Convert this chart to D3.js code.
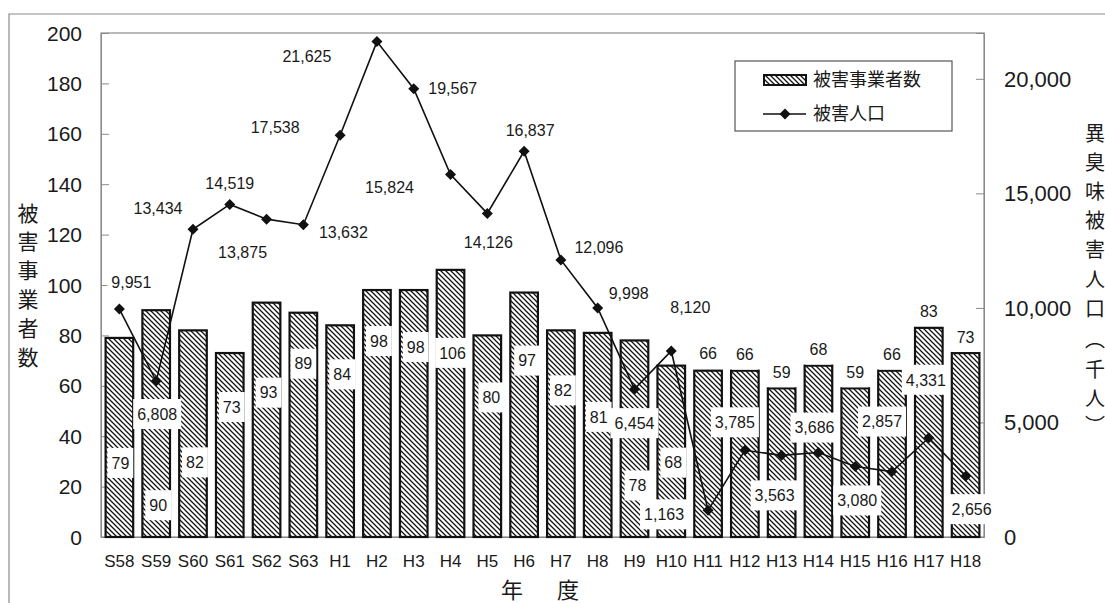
<!DOCTYPE html>
<html>
<head>
<meta charset="utf-8">
<script src="https://cdn.jsdelivr.net/npm/d3@7"></script>
<style>
  html, body { margin: 0; padding: 0; background: #fff; }
  svg { display: block; }
  text { font-family: "Liberation Sans", Arial, sans-serif; fill: #1a1a1a; }
  .jp { font-family: "Noto Sans CJK JP", sans-serif; }
</style>
</head>
<body>
<svg id="chart" width="1105" height="603"></svg>
<script>
// Fiscal years (Showa 58 – Heisei 18)
const categories = ["S58","S59","S60","S61","S62","S63","H1","H2","H3","H4","H5","H6",
                    "H7","H8","H9","H10","H11","H12","H13","H14","H15","H16","H17","H18"];
// 被害事業者数 (left axis)
const affectedOperators = [79,90,82,73,93,89,84,98,98,106,80,97,82,81,78,68,66,66,59,68,59,66,83,73];
// 被害人口, thousand people (right axis)
const affectedPopulation = [9951,6808,13434,14519,13875,13632,17538,21625,19567,15824,14126,16837,
                            12096,9998,6454,8120,1163,3785,3563,3686,3080,2857,4331,2656];
const leftTicks = [0,20,40,60,80,100,120,140,160,180,200];
const rightTicks = [0,5000,10000,15000,20000];
const leftTitle = ["被","害","事","業","者","数"];
const rightTitle = ["異","臭","味","被","害","人","口","︵","千","人","︶"];
const xTitle = ["年","度"];
const legendLabels = ["被害事業者数","被害人口"];

// Label placement (pixels): bar labels sit at an offset below the bar top,
// population labels at an offset from their marker.
const barLabelDx = [1,2,2,2,2,0,2,2,2,2,4,3,2,1,3,2,0,0,0,0,0,0,0,0];
const barLabelDy = [125,195,132,54,90,51,49,51,57,83,62,68,60,84,145,97,-17,-16,-16,-16,-16,-16,-17,-16];
const popLabelOffset = [[12,-27],[1,33],[-35,-21],[0,-21],[-24,33],[40,8],[-65,-8],[-70,15],
                        [39,0],[-61,13],[1,29],[6,-21],[38,-13],[31,-15],[0,34],[19,-44],
                        [-44,4],[-10,-28],[-7,40],[-4,-25],[2,34],[-10,-50],[-3,-58],[6,33]];
const rightTitleY = [134,163,192,221,250,280,309,340,370,399,426];

const svg = d3.select("#chart");
const fmt = d3.format(",");
const plot = { left: 101, right: 984, top: 33, bottom: 537 };
const frameGray = "#8a8a8a";

// diagonal hatch for bars
const defs = svg.append("defs");
const hs = 5;
const pat = defs.append("pattern")
  .attr("id", "hatch").attr("patternUnits", "userSpaceOnUse")
  .attr("width", hs).attr("height", hs);
pat.append("rect").attr("width", hs).attr("height", hs).attr("fill", "#fff");
pat.append("path")
  .attr("d", `M-1,-1 L${hs + 1},${hs + 1} M-1,${hs - 1} L1,${hs + 1} M${hs - 1},-1 L${hs + 1},1`)
  .attr("stroke", "#111").attr("stroke-width", 1.25);

// outer frame
svg.append("path").attr("d", "M9,603 L9,14 L1105,14")
  .attr("fill", "none").attr("stroke", frameGray).attr("stroke-width", 1.2);

const x = d3.scaleBand().domain(categories).range([plot.left, plot.right])
  .paddingInner(0.25).paddingOuter(0.125);
const yL = d3.scaleLinear().domain([0, 200]).range([plot.bottom, plot.top]);
const yR = d3.scaleLinear().domain([0, 22000]).range([plot.bottom, plot.top]);
const cx = c => x(c) + x.bandwidth() / 2;

// plot frame
svg.append("rect").attr("x", plot.left).attr("y", plot.top)
  .attr("width", plot.right - plot.left).attr("height", plot.bottom - plot.top)
  .attr("fill", "none").attr("stroke", frameGray).attr("stroke-width", 1.2);

// left axis
const gL = svg.append("g").attr("transform", `translate(${plot.left},0)`)
  .call(d3.axisRight(yL).tickValues(leftTicks).tickSize(8).tickFormat(""));
gL.select(".domain").attr("stroke", frameGray);
gL.selectAll(".tick line").attr("stroke", frameGray);
svg.append("g").selectAll("text").data(leftTicks).join("text")
  .attr("x", 82).attr("y", d => yL(d)).attr("dy", "0.36em")
  .attr("text-anchor", "end").attr("font-size", 21).text(d => d);

// right axis
const gR = svg.append("g").attr("transform", `translate(${plot.right},0)`)
  .call(d3.axisLeft(yR).tickValues(rightTicks).tickSize(8).tickFormat(""));
gR.select(".domain").attr("stroke", frameGray);
gR.selectAll(".tick line").attr("stroke", frameGray);
svg.append("g").selectAll("text").data(rightTicks).join("text")
  .attr("x", 1004).attr("y", d => yR(d)).attr("dy", "0.36em")
  .attr("font-size", 22).text(d => fmt(d));

// x axis
const gX = svg.append("g").attr("transform", `translate(0,${plot.bottom})`)
  .call(d3.axisBottom(x).tickSize(0).tickPadding(18));
gX.select(".domain").attr("stroke", frameGray);
gX.selectAll(".tick text").attr("font-size", 17).attr("fill", "#1a1a1a")
  .attr("font-family", "Liberation Sans, Arial, sans-serif");

// bars
svg.append("g").selectAll("rect").data(categories).join("rect")
  .attr("x", d => x(d)).attr("width", x.bandwidth())
  .attr("y", (d, i) => yL(affectedOperators[i]))
  .attr("height", (d, i) => yL(0) - yL(affectedOperators[i]))
  .attr("fill", "url(#hatch)").attr("stroke", "#111").attr("stroke-width", 2.2);

// population line
const line = d3.line().x((d, i) => cx(categories[i])).y(d => yR(d));
svg.append("path").datum(affectedPopulation).attr("d", line)
  .attr("fill", "none").attr("stroke", "#111").attr("stroke-width", 1.6);
const diamond = "M0,-5.5 L5.5,0 L0,5.5 L-5.5,0 Z";
svg.append("g").selectAll("path").data(affectedPopulation).join("path")
  .attr("transform", (d, i) => `translate(${cx(categories[i])},${yR(d)})`)
  .attr("d", diamond).attr("fill", "#111");

// value labels with white backing
function boxedLabel(g, tx, ty, str) {
  const t = g.append("text").attr("x", tx).attr("y", ty).attr("dy", "0.36em")
    .attr("text-anchor", "middle").attr("font-size", 16).text(str);
  const w = t.node().getComputedTextLength();
  g.insert("rect", "text").attr("x", tx - w / 2 - 4).attr("y", ty - 15)
    .attr("width", w + 8).attr("height", 30).attr("fill", "#fff");
}
const labels = svg.append("g");
categories.forEach((c, i) => {
  const g = labels.append("g");
  boxedLabel(g, cx(c) + barLabelDx[i], yL(affectedOperators[i]) + barLabelDy[i], affectedOperators[i]);
});
categories.forEach((c, i) => {
  const g = labels.append("g");
  const [dx, dy] = popLabelOffset[i];
  boxedLabel(g, cx(c) + dx, yR(affectedPopulation[i]) + dy, fmt(affectedPopulation[i]));
});

// axis titles
svg.append("g").selectAll("text").data(leftTitle).join("text").attr("class", "jp")
  .attr("x", 28).attr("y", (d, i) => 213 + i * 28.8).attr("dy", "0.36em")
  .attr("text-anchor", "middle").attr("font-size", 21).text(d => d);
svg.append("g").selectAll("text").data(rightTitle).join("text").attr("class", "jp")
  .attr("x", 1095).attr("y", (d, i) => rightTitleY[i]).attr("dy", "0.36em")
  .attr("text-anchor", "middle").attr("font-size", 20).text(d => d);
svg.append("g").selectAll("text").data(xTitle).join("text").attr("class", "jp")
  .attr("x", (d, i) => 512 + i * 56).attr("y", 590).attr("dy", "0.36em")
  .attr("text-anchor", "middle").attr("font-size", 22).text(d => d);

// legend
const lg = svg.append("g");
lg.append("rect").attr("x", 735).attr("y", 61).attr("width", 217).attr("height", 70)
  .attr("fill", "#fff").attr("stroke", "#555").attr("stroke-width", 1.2);
lg.append("rect").attr("x", 764).attr("y", 75).attr("width", 42).attr("height", 10)
  .attr("fill", "url(#hatch)").attr("stroke", "#111").attr("stroke-width", 2);
lg.append("line").attr("x1", 763).attr("x2", 806).attr("y1", 114).attr("y2", 114)
  .attr("stroke", "#111").attr("stroke-width", 1.6);
lg.append("path").attr("transform", "translate(785,114)").attr("d", diamond).attr("fill", "#111");
lg.selectAll("text.lab").data(legendLabels).join("text").attr("class", "jp lab")
  .attr("x", 813).attr("y", (d, i) => 80 + i * 34).attr("dy", "0.36em")
  .attr("font-size", 18).text(d => d);
</script>
</body>
</html>
